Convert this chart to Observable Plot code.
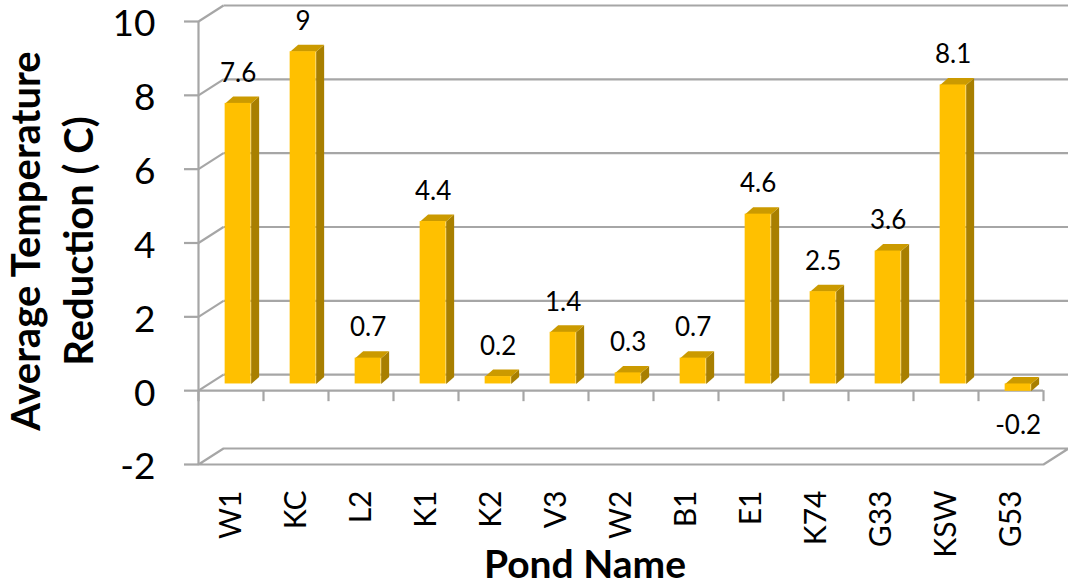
<!DOCTYPE html>
<html>
<head>
<meta charset="utf-8">
<script src="https://cdn.jsdelivr.net/npm/d3@7"></script>
<script src="https://cdn.jsdelivr.net/npm/@observablehq/plot@0.6"></script>
<style>
  html, body { margin: 0; padding: 0; background: #fff; }
  #chart svg { display: block; }
</style>
</head>
<body>
<div id="chart"></div>
<script>
// Pond names and their average temperature reduction (°C)
const ponds = ["W1", "KC", "L2", "K1", "K2", "V3", "W2", "B1", "E1", "K74", "G33", "KSW", "G53"];
const reductions = [7.6, 9, 0.7, 4.4, 0.2, 1.4, 0.3, 0.7, 4.6, 2.5, 3.6, 8.1, -0.2];
const yTicks = [-2, 0, 2, 4, 6, 8, 10];

// Frame layout
const W = 1068, H = 585;
const mL = 198, mR = 25, mT = 21, mB = 121;
const yMin = -2, yMax = 10, n = ponds.length;
const pxX = (W - mL - mR) / n;             // pixels per category
const pxY = (H - mT - mB) / (yMax - yMin); // pixels per degree

// Oblique depth of the walls/floor and of the bars (pixels → data units)
const wallDX = 25 / pxX, wallDY = 16 / pxY;
const barDX = 8 / pxX, barDY = 7 / pxY;
const lift = 6.7 / pxY;                    // bars sit a little behind the front plane
const barL = 0.41, barR = 0.81;            // front face within each category slot

const grid = "#a6a6a6";

// Back-wall gridlines and the diagonals on the left side wall
const gridRows = yTicks.filter(v => v > yMin).flatMap(v => [
  {x1: 0, y1: v, x2: wallDX, y2: v + wallDY},
  {x1: wallDX, y1: v + wallDY, x2: n + wallDX, y2: v + wallDY}
]);

// Floor at the bottom of the value axis
const floor = [
  {x: 0, y: yMin}, {x: n, y: yMin}, {x: n + wallDX, y: yMin + wallDY},
  {x: wallDX, y: yMin + wallDY}, {x: 0, y: yMin}
];

// Bar faces built from the values
const bars = reductions.map((v, i) => {
  const top = Math.max(v, 0) + lift, bot = Math.min(v, 0) + lift;
  const xl = i + barL, xr = i + barR;
  return {i, v, name: ponds[i], xl, xr, top, bot};
});
const topFaces = bars.flatMap(b => [
  {id: b.i, x: b.xl, y: b.top}, {id: b.i, x: b.xr, y: b.top},
  {id: b.i, x: b.xr + barDX, y: b.top + barDY}, {id: b.i, x: b.xl + barDX, y: b.top + barDY}
]);
const sideFaces = bars.flatMap(b => [
  {id: b.i, x: b.xr, y: b.bot}, {id: b.i, x: b.xr + barDX, y: b.bot + barDY},
  {id: b.i, x: b.xr + barDX, y: b.top + barDY}, {id: b.i, x: b.xr, y: b.top}
]);

const catTicks = d3.range(n + 1);
const labelFont = {fontSize: 26, fill: "#000"};

const chart = Plot.plot({
  width: W,
  height: H,
  marginLeft: mL,
  marginRight: mR,
  marginTop: mT,
  marginBottom: mB,
  style: {fontFamily: "Lato, 'Open Sans', sans-serif", background: "#fff", color: "#000", overflow: "visible"},
  x: {type: "linear", domain: [0, n], axis: null},
  y: {type: "linear", domain: [yMin, yMax], axis: null},
  marks: [
    // floor
    Plot.line(floor, {x: "x", y: "y", fill: "#fff", stroke: grid, strokeWidth: 2.2}),
    // back wall
    Plot.link(gridRows, {x1: "x1", y1: "y1", x2: "x2", y2: "y2", stroke: grid, strokeWidth: 2.2}),
    // value axis line and ticks
    Plot.ruleX([0], {y1: yMin, y2: yMax, stroke: grid, strokeWidth: 2.2}),
    Plot.axisY(yTicks, {
      anchor: "left", tickSize: 14, tickPadding: 0, text: null, stroke: grid, strokeWidth: 2.2, label: null
    }),
    Plot.axisY(yTicks, {
      anchor: "left", tickSize: 0, tickPadding: 43, dy: 3,
      tickFormat: d => String(d), fill: "#000", fontSize: 37, label: null
    }),
    // category axis at zero, with tick marks between ponds
    Plot.ruleY([0], {x1: 0, x2: n, stroke: grid, strokeWidth: 2.2}),
    Plot.ruleX(catTicks, {x: d => d, y1: 0, y2: -11 / pxY, stroke: grid, strokeWidth: 2.2}),
    // bars
    Plot.line(sideFaces, {x: "x", y: "y", z: "id", fill: "#A87F00", stroke: "none"}),
    Plot.line(topFaces, {x: "x", y: "y", z: "id", fill: "#CB9A00", stroke: "none"}),
    Plot.rect(bars, {x1: "xl", x2: "xr", y1: "bot", y2: "top", fill: "#FFC000"}),
    // value labels: above positive bars, below negative ones
    Plot.text(bars.filter(d => d.v >= 0), {
      x: d => (d.xl + d.xr) / 2, y: "top", dy: -30, text: d => String(d.v), ...labelFont
    }),
    Plot.text(bars.filter(d => d.v < 0), {
      x: d => (d.xl + d.xr) / 2, y: "bot", dy: 34, text: d => String(d.v), ...labelFont
    }),
    // pond names
    Plot.axisX(catTicks.slice(0, n).map(i => i + 0.5), {
      anchor: "bottom", tickSize: 0, tickPadding: 26, tickRotate: -90,
      tickFormat: (d, i) => ponds[i], fontSize: 30, fill: "#000", label: null
    }),
    // axis titles
    Plot.text(["Pond Name"], {
      frameAnchor: "bottom", lineAnchor: "middle", dx: -36, dy: 101,
      fontSize: 39, fontWeight: "bold", fill: "#000"
    }),
    Plot.text(["Average Temperature\nReduction ( C)"], {
      frameAnchor: "left", textAnchor: "middle", lineAnchor: "middle", rotate: -90,
      dx: -149, dy: -2, lineHeight: 1.33, fontSize: 40, fontWeight: "bold", fill: "#000"
    })
  ]
});

document.getElementById("chart").appendChild(chart);
</script>
</body>
</html>
